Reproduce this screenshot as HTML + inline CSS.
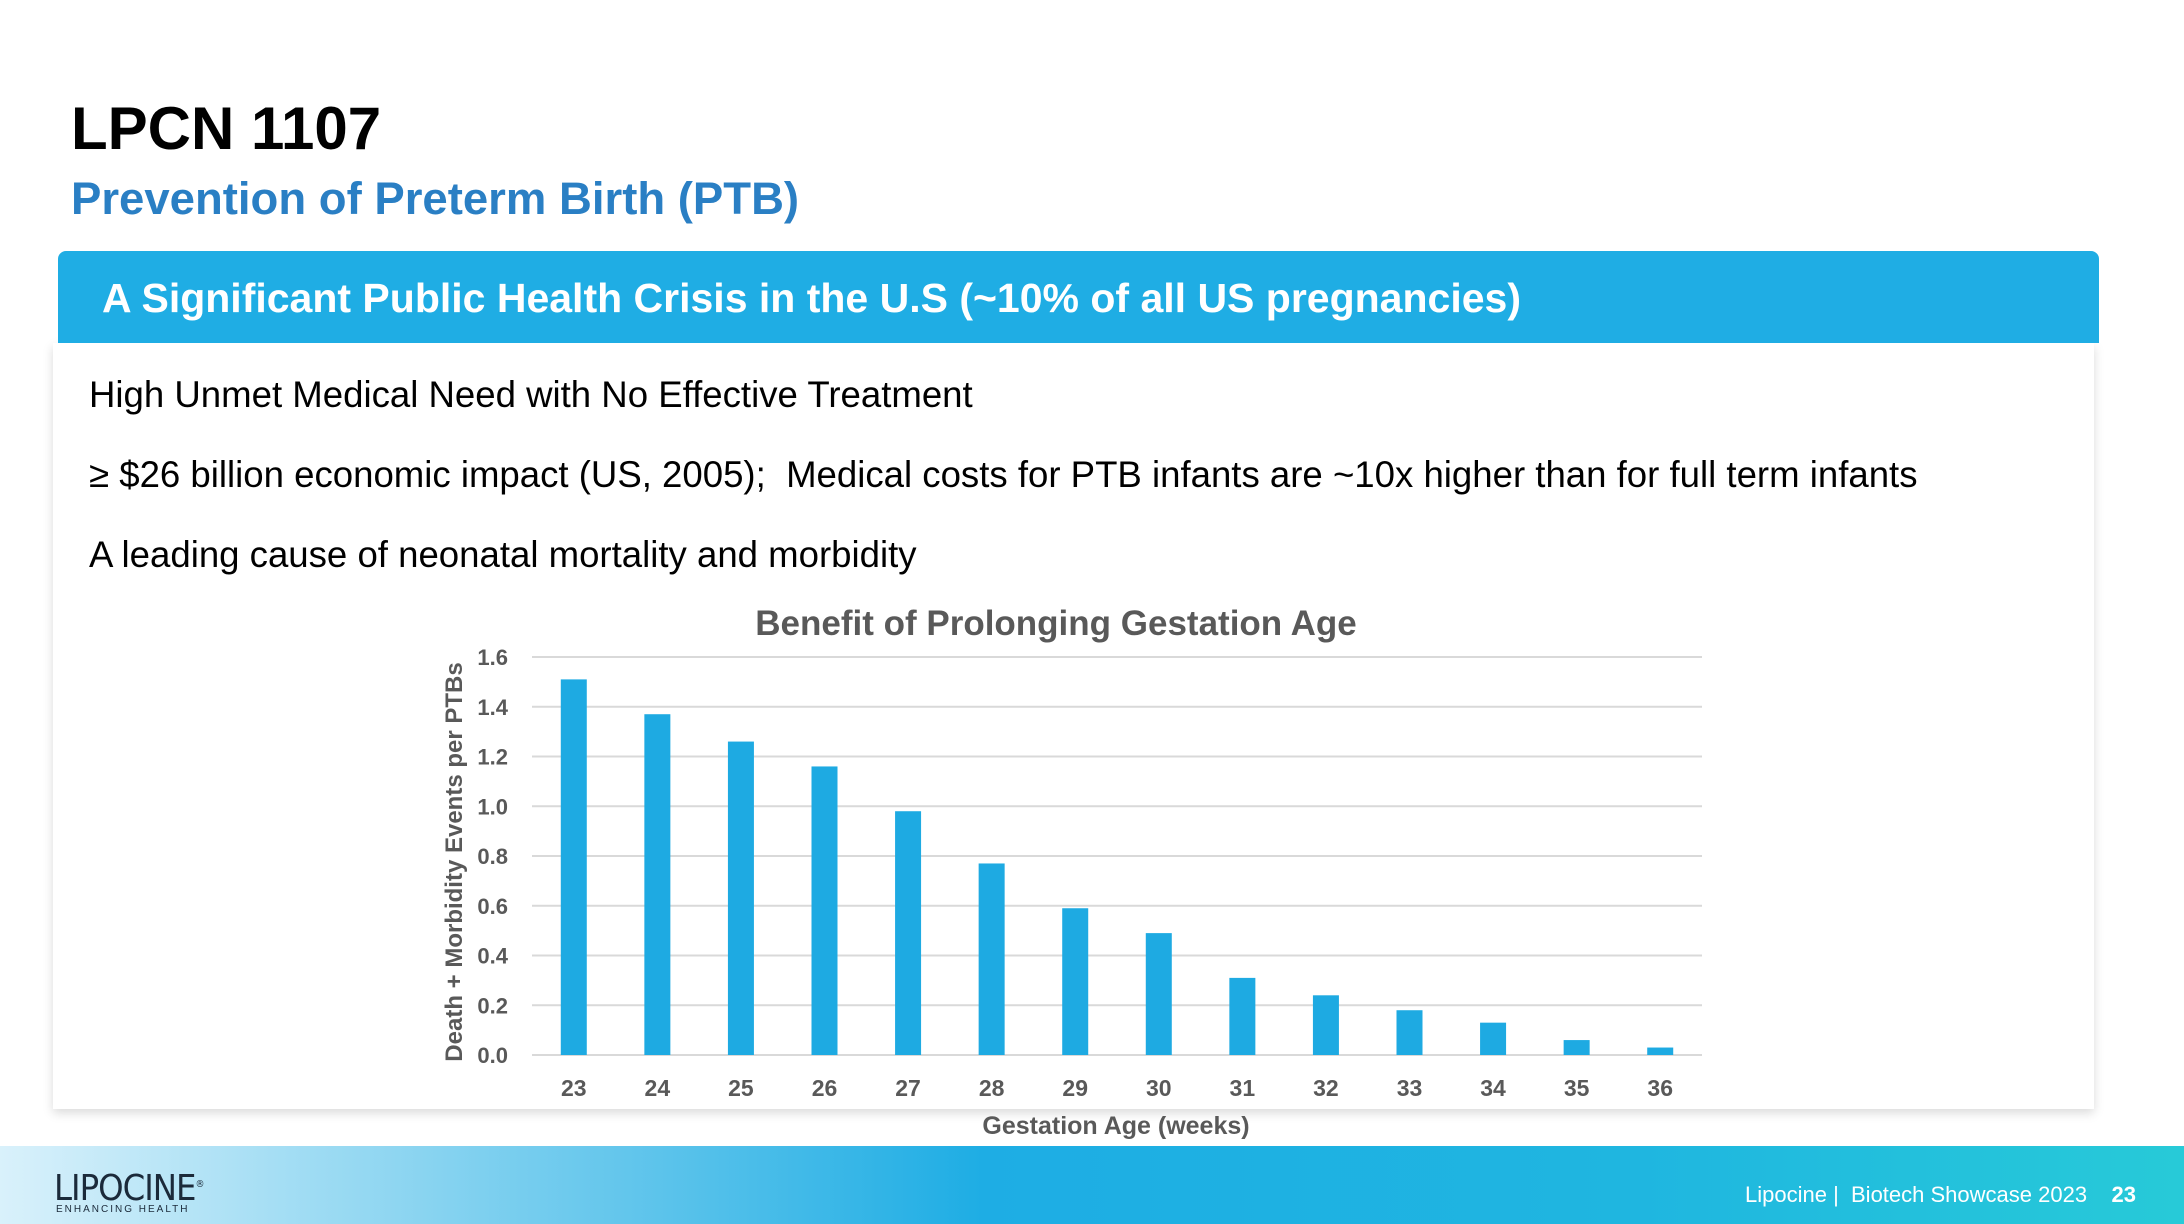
<!DOCTYPE html>
<html><head><meta charset="utf-8"><style>
body{margin:0;width:2184px;height:1224px;overflow:hidden;background:#fff;font-family:"Liberation Sans",sans-serif;position:relative}
.a{position:absolute;white-space:nowrap}
</style></head><body>
<div class="a" style="left:71px;top:94px;font-size:60px;font-weight:bold;color:#000">LPCN 1107</div>
<div class="a" style="left:71px;top:173px;font-size:45.5px;font-weight:bold;color:#2a7fc4">Prevention of Preterm Birth (PTB)</div>
<div class="a" style="left:53px;top:343px;width:2041px;height:766px;background:#fff;box-shadow:0 4px 10px rgba(0,0,0,0.15)"></div>
<div class="a" style="left:58px;top:251px;width:2041px;height:92px;background:#1fade4;border-radius:8px 8px 0 0"></div>
<div class="a" style="left:102px;top:275px;font-size:41px;font-weight:bold;color:#fff">A Significant Public Health Crisis in the U.S (~10% of all US pregnancies)</div>
<div class="a" style="left:89px;top:374px;font-size:36.6px;color:#000">High Unmet Medical Need with No Effective Treatment</div>
<div class="a" style="left:89px;top:454px;font-size:36.6px;color:#000">≥ $26 billion economic impact (US, 2005);&nbsp; Medical costs for PTB infants are ~10x higher than for full term infants</div>
<div class="a" style="left:89px;top:534px;font-size:36.6px;color:#000">A leading cause of neonatal mortality and morbidity</div>
<svg class="a" style="left:0;top:0" width="2184" height="1224" id="chart"></svg>
<div class="a" style="left:0;top:1146px;width:2184px;height:78px;background:linear-gradient(90deg,#d9f1fb 0%,#8fd6f1 18%,#1eade4 45%,#1fb6e0 75%,#27cad8 100%)"></div>
<div class="a" style="left:54px;top:1168px;font-size:36px;color:#1b2a3a;letter-spacing:-1px;font-family:'DejaVu Sans Condensed','Liberation Sans',sans-serif;font-weight:300">LIPOCINE<sup style="font-size:10px">®</sup></div>
<div class="a" style="left:56px;top:1204px;font-size:10px;color:#1b2a3a;letter-spacing:2px">ENHANCING HEALTH</div>
<div class="a" style="right:48px;top:1182px;font-size:22px;color:#fff">Lipocine&nbsp;|&nbsp; Biotech Showcase 2023 &nbsp;&nbsp; <b>23</b></div>
<script>
const categories=["23","24","25","26","27","28","29","30","31","32","33","34","35","36"];
const values=[1.51,1.37,1.26,1.16,0.98,0.77,0.59,0.49,0.31,0.24,0.18,0.13,0.06,0.03];
const yTicks=[0,0.2,0.4,0.6,0.8,1.0,1.2,1.4,1.6];
const svg=document.getElementById('chart');
const NS='http://www.w3.org/2000/svg';
const x0=532,x1=1702,y0=1055,y1=657,yMax=1.6;
const bw=(x1-x0)/categories.length;
function yS(v){return y0-(v/yMax)*(y0-y1);}
function xS(i){return x0+bw*(i+0.5);}
function mk(t,a){const e=document.createElementNS(NS,t);for(const k in a)e.setAttribute(k,a[k]);svg.appendChild(e);return e;}
yTicks.forEach(v=>{
 const l=mk('line',{x1:x0,x2:x1,y1:yS(v),y2:yS(v),stroke:'#d9d9d9','stroke-width':2});
 
 
 const t=mk('text',{x:508,y:yS(v)+8,'text-anchor':'end','font-size':22,'font-weight':'bold',fill:'#595959','font-family':'Liberation Sans'});
 t.textContent=v.toFixed(1);
 
 
});
values.forEach((v,i)=>{
 const r=mk('rect',{x:xS(i)-13,y:yS(v),width:26,height:y0-yS(v),fill:'#1eaae2'});
 
 
 const t=mk('text',{x:xS(i),y:1096,'text-anchor':'middle','font-size':23,'font-weight':'bold',fill:'#595959','font-family':'Liberation Sans'});
 t.textContent=categories[i];
 
 
});
const ti=mk('text',{x:1056,y:635,'text-anchor':'middle','font-size':35,'font-weight':'bold',fill:'#595959','font-family':'Liberation Sans'});
ti.textContent='Benefit of Prolonging Gestation Age';


const xt=mk('text',{x:1116,y:1134,'text-anchor':'middle','font-size':25,'font-weight':'bold',fill:'#595959','font-family':'Liberation Sans'});
xt.textContent='Gestation Age (weeks)';


const yt=mk('text',{x:0,y:0,'text-anchor':'middle','font-size':24,'font-weight':'bold',fill:'#595959','font-family':'Liberation Sans',transform:'translate(462,862) rotate(-90)'});
yt.textContent='Death + Morbidity Events per PTBs';


</script>
</body></html>
